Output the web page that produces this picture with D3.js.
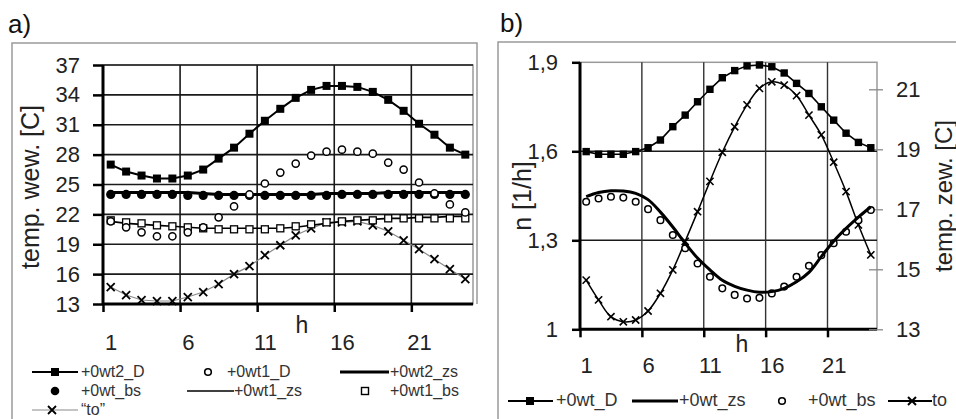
<!DOCTYPE html>
<html><head><meta charset="utf-8">
<script src="https://cdn.jsdelivr.net/npm/d3@7"></script>
<style>
body{margin:0;background:#fff}
svg{display:block}
text{font-family:"Liberation Sans",Arial,Helvetica,sans-serif}
</style>
</head><body>
<svg id="c" width="956" height="419"></svg>
<script>
// ---------- DATA ----------
const hours = [1,2,3,4,5,6,7,8,9,10,11,12,13,14,15,16,17,18,19,20,21,22,23,24];
const xTickLabels = [1,6,11,16,21];

// panel a) temp. wew. [C]
const aTicks = [13,16,19,22,25,28,31,34,37];
const a_wt2_D  = [27.0,26.3,25.9,25.6,25.6,25.9,26.5,27.6,28.7,30.1,31.4,32.6,33.7,34.5,34.9,34.9,34.8,34.3,33.5,32.4,31.1,30.0,28.7,28.0];
const a_wt1_D  = [21.3,20.7,20.2,19.8,19.8,20.2,20.7,21.7,22.8,24.0,25.1,26.2,27.1,27.9,28.3,28.5,28.3,28.1,27.2,26.5,25.2,24.1,23.0,22.2];
const a_wt2_zs = [24.2,24.2,24.2,24.2,24.2,24.2,24.1,24.0,24.0,24.0,24.0,24.0,24.0,24.0,24.1,24.1,24.1,24.1,24.2,24.2,24.2,24.2,24.2,24.2];
const a_wt_bs  = [24.0,24.0,24.0,24.0,24.0,23.9,23.9,23.9,23.9,23.9,23.9,23.9,23.9,23.9,23.9,24.0,24.0,24.0,24.0,24.0,24.0,24.0,24.0,24.0];
const a_wt1_zs = [21.3,21.1,21.0,20.9,20.8,20.7,20.6,20.6,20.6,20.6,20.6,20.6,20.7,20.9,21.1,21.3,21.4,21.5,21.6,21.6,21.7,21.7,21.8,21.8];
const a_wt1_bs = [21.4,21.2,21.1,20.9,20.8,20.7,20.6,20.5,20.5,20.5,20.5,20.6,20.8,21.0,21.2,21.3,21.4,21.4,21.6,21.6,21.6,21.6,21.6,21.6];
const a_to     = [14.7,13.9,13.4,13.3,13.3,13.7,14.2,15.0,16.0,16.8,17.9,18.9,19.9,20.6,21.2,21.2,21.3,20.9,20.3,19.4,18.5,17.5,16.5,15.5];

// panel b) n [1/h] (left) and temp. zew. [C] (right)
const bLeftTicks  = [1,1.3,1.6,1.9];
const bRightTicks = [13,15,17,19,21];
const b_wt_D  = [1.599,1.590,1.590,1.590,1.599,1.612,1.638,1.683,1.722,1.767,1.809,1.848,1.872,1.888,1.891,1.885,1.864,1.829,1.795,1.750,1.705,1.661,1.630,1.612];
const b_wt_zs = [1.447,1.461,1.467,1.466,1.458,1.437,1.395,1.345,1.290,1.240,1.200,1.165,1.145,1.132,1.125,1.127,1.138,1.160,1.192,1.245,1.297,1.340,1.378,1.413];
const b_wt_bs = [1.430,1.441,1.447,1.444,1.430,1.405,1.368,1.318,1.273,1.222,1.177,1.138,1.116,1.104,1.106,1.121,1.144,1.177,1.214,1.250,1.290,1.329,1.368,1.402];
const b_to    = [14.64,13.98,13.42,13.25,13.31,13.61,14.2,14.98,15.93,16.92,17.93,18.9,19.75,20.48,21.03,21.25,21.14,20.79,20.14,19.48,18.57,17.59,16.48,15.48];

// ---------- DRAW ----------
const svg = d3.select("#c");
const GRID = "#1a1a1a", BORDER = "#9a9a9a", TXT = "#222";
const fmtComma = d => String(d).replace(".", ",");

function xCross(sel, x, y, s, sw, col) {
  sel.append("path").attr("d", `M${x-s},${y-s}L${x+s},${y+s}M${x-s},${y+s}L${x+s},${y-s}`)
    .attr("stroke", col || "#000").attr("stroke-width", sw).attr("fill", "none");
}
function styleAxis(g, lineW, col) {
  g.select(".domain").remove();
  g.selectAll(".tick line").attr("stroke", col || "#000").attr("stroke-width", lineW);
  g.selectAll(".tick text").attr("fill", TXT).attr("font-size", 22);
}

// panel labels
svg.append("text").attr("x", 8).attr("y", 33).text("a)")
  .attr("font-family", '"Liberation Serif","Times New Roman",serif').attr("font-size", 26).attr("fill", "#111");
svg.append("text").attr("x", 500).attr("y", 32).text("b)")
  .attr("font-family", '"Liberation Serif","Times New Roman",serif').attr("font-size", 26).attr("fill", "#111");

// frames
svg.append("path").attr("d", "M12,419V43H477V304").attr("fill", "none").attr("stroke", BORDER).attr("stroke-width", 1.5);
svg.append("path").attr("d", "M498,419V42H956").attr("fill", "none").attr("stroke", BORDER).attr("stroke-width", 1.5);

// ===== Panel a =====
{
  const xA = d3.scaleLinear().domain([0.5, 24.5]).range([103, 473]);
  const yA = d3.scaleLinear().domain([13, 37]).range([304, 65]);
  const g = svg.append("g");
  g.append("rect").attr("x", xA(0.5)).attr("y", yA(37)).attr("width", xA(24.5) - xA(0.5))
    .attr("height", yA(13) - yA(37)).attr("fill", "none").attr("stroke", BORDER).attr("stroke-width", 1.5);
  g.selectAll(".hg").data(aTicks).join("line")
    .attr("x1", xA(0.5)).attr("x2", xA(24.5)).attr("y1", d => yA(d)).attr("y2", d => yA(d))
    .attr("stroke", GRID).attr("stroke-width", 1.6);
  g.selectAll(".vg").data(xTickLabels.slice(1).map(d => d - 0.5)).join("line")
    .attr("x1", d => xA(d)).attr("x2", d => xA(d)).attr("y1", yA(37)).attr("y2", yA(13))
    .attr("stroke", GRID).attr("stroke-width", 1.6);
  g.append("line").attr("x1", xA(0.5)).attr("x2", xA(0.5)).attr("y1", yA(37)).attr("y2", yA(13)).attr("stroke", "#000").attr("stroke-width", 3);
  g.append("line").attr("x1", xA(0.5)).attr("x2", xA(24.5)).attr("y1", yA(13)).attr("y2", yA(13)).attr("stroke", "#000").attr("stroke-width", 3);
  const ya = g.append("g").attr("transform", `translate(${xA(0.5)},0)`)
    .call(d3.axisLeft(yA).tickValues(aTicks).tickSize(10).tickSizeOuter(0).tickPadding(13));
  styleAxis(ya, 2.5);
  const xt = g.append("g").attr("transform", `translate(0,${yA(13)})`)
    .call(d3.axisBottom(xA).tickValues(xTickLabels.map(d => d - 0.5)).tickSize(8).tickSizeOuter(0).tickFormat(""));
  styleAxis(xt, 2.5);
  const xl = g.append("g").attr("transform", `translate(0,${yA(13)})`)
    .call(d3.axisBottom(xA).tickValues(xTickLabels).tickSize(0).tickSizeOuter(0).tickPadding(30));
  styleAxis(xl, 0);
  g.append("text").attr("x", 302).attr("y", 333).attr("text-anchor", "middle").attr("font-size", 23).attr("fill", TXT).text("h");
  g.append("text").attr("transform", "translate(39,187) rotate(-90)").attr("text-anchor", "middle")
    .attr("font-size", 25).attr("fill", TXT).text("temp. wew. [C]");

  const line = arr => d3.line().x((d, i) => xA(hours[i])).y(d => yA(d))(arr);
  g.append("path").attr("d", line(a_to)).attr("fill", "none").attr("stroke", "#8a8a8a").attr("stroke-width", 1.2);
  a_to.forEach((v, i) => xCross(g, xA(hours[i]), yA(v), 4, 1.8));
  g.append("path").attr("d", line(a_wt1_zs)).attr("fill", "none").attr("stroke", "#000").attr("stroke-width", 1.6);
  g.selectAll(".sq1").data(a_wt1_bs).join("rect")
    .attr("x", (d, i) => xA(hours[i]) - 3.5).attr("y", d => yA(d) - 3.5).attr("width", 7).attr("height", 7)
    .attr("fill", "#fff").attr("stroke", "#000").attr("stroke-width", 1.3);
  g.append("path").attr("d", line(a_wt2_zs)).attr("fill", "none").attr("stroke", "#000").attr("stroke-width", 3);
  g.selectAll(".fc").data(a_wt_bs).join("circle")
    .attr("cx", (d, i) => xA(hours[i])).attr("cy", d => yA(d)).attr("r", 4.6).attr("fill", "#000");
  g.selectAll(".oc").data(a_wt1_D).join("circle")
    .attr("cx", (d, i) => xA(hours[i])).attr("cy", d => yA(d)).attr("r", 3.6)
    .attr("fill", "#fff").attr("stroke", "#000").attr("stroke-width", 1.5);
  g.append("path").attr("d", line(a_wt2_D)).attr("fill", "none").attr("stroke", "#000").attr("stroke-width", 2);
  g.selectAll(".sq2").data(a_wt2_D).join("rect")
    .attr("x", (d, i) => xA(hours[i]) - 4).attr("y", d => yA(d) - 4).attr("width", 8).attr("height", 8).attr("fill", "#000");

  // legend a
  const L = svg.append("g").attr("font-size", 16).attr("fill", "#333");
  L.append("line").attr("x1", 32).attr("x2", 78).attr("y1", 372).attr("y2", 372).attr("stroke", "#000").attr("stroke-width", 2);
  L.append("rect").attr("x", 51).attr("y", 368).attr("width", 8).attr("height", 8).attr("fill", "#000");
  L.append("text").attr("x", 81).attr("y", 377).text("+0wt2_D");
  L.append("circle").attr("cx", 208).attr("cy", 372).attr("r", 3.3).attr("fill", "#fff").attr("stroke", "#000").attr("stroke-width", 1.6);
  L.append("text").attr("x", 227).attr("y", 377).text("+0wt1_D");
  L.append("line").attr("x1", 340).attr("x2", 389).attr("y1", 372).attr("y2", 372).attr("stroke", "#000").attr("stroke-width", 3);
  L.append("text").attr("x", 390).attr("y", 377).text("+0wt2_zs");
  L.append("circle").attr("cx", 55).attr("cy", 391).attr("r", 4.3).attr("fill", "#000");
  L.append("text").attr("x", 81).attr("y", 396).text("+0wt_bs");
  L.append("line").attr("x1", 187).attr("x2", 234).attr("y1", 391).attr("y2", 391).attr("stroke", "#000").attr("stroke-width", 1.6);
  L.append("text").attr("x", 234).attr("y", 396).text("+0wt1_zs");
  L.append("rect").attr("x", 361.5).attr("y", 387.5).attr("width", 7).attr("height", 7).attr("fill", "#fff").attr("stroke", "#000").attr("stroke-width", 1.4);
  L.append("text").attr("x", 390).attr("y", 396).text("+0wt1_bs");
  L.append("line").attr("x1", 32).attr("x2", 78).attr("y1", 410).attr("y2", 410).attr("stroke", "#8a8a8a").attr("stroke-width", 1.2);
  xCross(L, 52, 410, 4, 1.8);
  L.append("text").attr("x", 81).attr("y", 415).text("\u201Cto\u201D");
}

// ===== Panel b =====
{
  const xB = d3.scaleLinear().domain([0.5, 24.5]).range([580, 877]);
  const yB = d3.scaleLinear().domain([1, 1.9]).range([329.3, 62.3]);
  const yR = d3.scaleLinear().domain([13, 21.9]).range([329.3, 62.3]);
  const g = svg.append("g");
  g.append("rect").attr("x", xB(0.5)).attr("y", yB(1.9)).attr("width", xB(24.5) - xB(0.5))
    .attr("height", yB(1) - yB(1.9)).attr("fill", "none").attr("stroke", BORDER).attr("stroke-width", 1.5);
  g.selectAll(".hg").data(bLeftTicks.slice(1, 3)).join("line")
    .attr("x1", xB(0.5)).attr("x2", xB(24.5)).attr("y1", d => yB(d)).attr("y2", d => yB(d))
    .attr("stroke", GRID).attr("stroke-width", 1.6);
  g.selectAll(".vg").data(xTickLabels.slice(1).map(d => d - 0.5)).join("line")
    .attr("x1", d => xB(d)).attr("x2", d => xB(d)).attr("y1", yB(1.9)).attr("y2", yB(1))
    .attr("stroke", "#333").attr("stroke-width", 1.4);
  g.append("line").attr("x1", xB(0.5)).attr("x2", xB(0.5)).attr("y1", yB(1.9)).attr("y2", yB(1)).attr("stroke", "#000").attr("stroke-width", 3);
  g.append("line").attr("x1", xB(0.5)).attr("x2", xB(24.5)).attr("y1", yB(1)).attr("y2", yB(1)).attr("stroke", "#000").attr("stroke-width", 3);
  const yl = g.append("g").attr("transform", `translate(${xB(0.5)},0)`)
    .call(d3.axisLeft(yB).tickValues(bLeftTicks).tickSize(8).tickSizeOuter(0).tickPadding(14).tickFormat(fmtComma));
  styleAxis(yl, 2.5);
  const yr = g.append("g").attr("transform", `translate(869,0)`)
    .call(d3.axisRight(yR).tickValues(bRightTicks).tickSize(14).tickSizeOuter(0).tickPadding(13));
  styleAxis(yr, 1.3, "#8a8a8a");
  const xt = g.append("g").attr("transform", `translate(0,${yB(1)})`)
    .call(d3.axisBottom(xB).tickValues(xTickLabels.map(d => d - 0.5)).tickSize(8).tickSizeOuter(0).tickFormat(""));
  styleAxis(xt, 2.5);
  const xl = g.append("g").attr("transform", `translate(0,${yB(1)})`)
    .call(d3.axisBottom(xB).tickValues(xTickLabels).tickSize(0).tickSizeOuter(0).tickPadding(28));
  styleAxis(xl, 0);
  g.append("text").attr("x", 742).attr("y", 352).attr("text-anchor", "middle").attr("font-size", 23).attr("fill", TXT).text("h");
  g.append("text").attr("transform", "translate(531,196) rotate(-90)").attr("text-anchor", "middle")
    .attr("font-size", 25).attr("fill", TXT).text("n [1/h]");
  g.append("text").attr("transform", "translate(952,196) rotate(-90)").attr("text-anchor", "middle")
    .attr("font-size", 24).attr("fill", TXT).text("temp. zew. [C]");

  const lineL = d3.line().x((d, i) => xB(hours[i])).y(d => yB(d));
  const lineS = d3.line().x((d, i) => xB(hours[i])).y(d => yB(d)).curve(d3.curveCatmullRom);
  const lineR = d3.line().x((d, i) => xB(hours[i])).y(d => yR(d)).curve(d3.curveCatmullRom);
  g.append("path").attr("d", lineR(b_to)).attr("fill", "none").attr("stroke", "#000").attr("stroke-width", 1.5);
  b_to.forEach((v, i) => xCross(g, xB(hours[i]), yR(v), 3.6, 1.6));
  g.selectAll(".oc").data(b_wt_bs).join("circle")
    .attr("cx", (d, i) => xB(hours[i])).attr("cy", d => yB(d)).attr("r", 3.3)
    .attr("fill", "#fff").attr("stroke", "#000").attr("stroke-width", 1.5);
  g.append("path").attr("d", lineS(b_wt_zs)).attr("fill", "none").attr("stroke", "#000").attr("stroke-width", 3);
  g.append("path").attr("d", lineL(b_wt_D)).attr("fill", "none").attr("stroke", "#000").attr("stroke-width", 1.6);
  g.selectAll(".sq").data(b_wt_D).join("rect")
    .attr("x", (d, i) => xB(hours[i]) - 3.7).attr("y", d => yB(d) - 3.7).attr("width", 7.4).attr("height", 7.4).attr("fill", "#000");

  // legend b
  const L = svg.append("g").attr("font-size", 18).attr("fill", "#333");
  L.append("line").attr("x1", 508).attr("x2", 553).attr("y1", 401).attr("y2", 401).attr("stroke", "#000").attr("stroke-width", 2);
  L.append("rect").attr("x", 526).attr("y", 397).attr("width", 8).attr("height", 8).attr("fill", "#000");
  L.append("text").attr("x", 556).attr("y", 406).text("+0wt_D");
  L.append("line").attr("x1", 632).attr("x2", 678).attr("y1", 401).attr("y2", 401).attr("stroke", "#000").attr("stroke-width", 3);
  L.append("text").attr("x", 679).attr("y", 406).text("+0wt_zs");
  L.append("circle").attr("cx", 782).attr("cy", 401).attr("r", 3.3).attr("fill", "#fff").attr("stroke", "#000").attr("stroke-width", 1.6);
  L.append("text").attr("x", 808).attr("y", 406).text("+0wt_bs");
  L.append("line").attr("x1", 888).attr("x2", 932).attr("y1", 401).attr("y2", 401).attr("stroke", "#000").attr("stroke-width", 2);
  xCross(L, 912, 401, 4, 2);
  L.append("text").attr("x", 932).attr("y", 406).text("to");
}
</script>
</body></html>
